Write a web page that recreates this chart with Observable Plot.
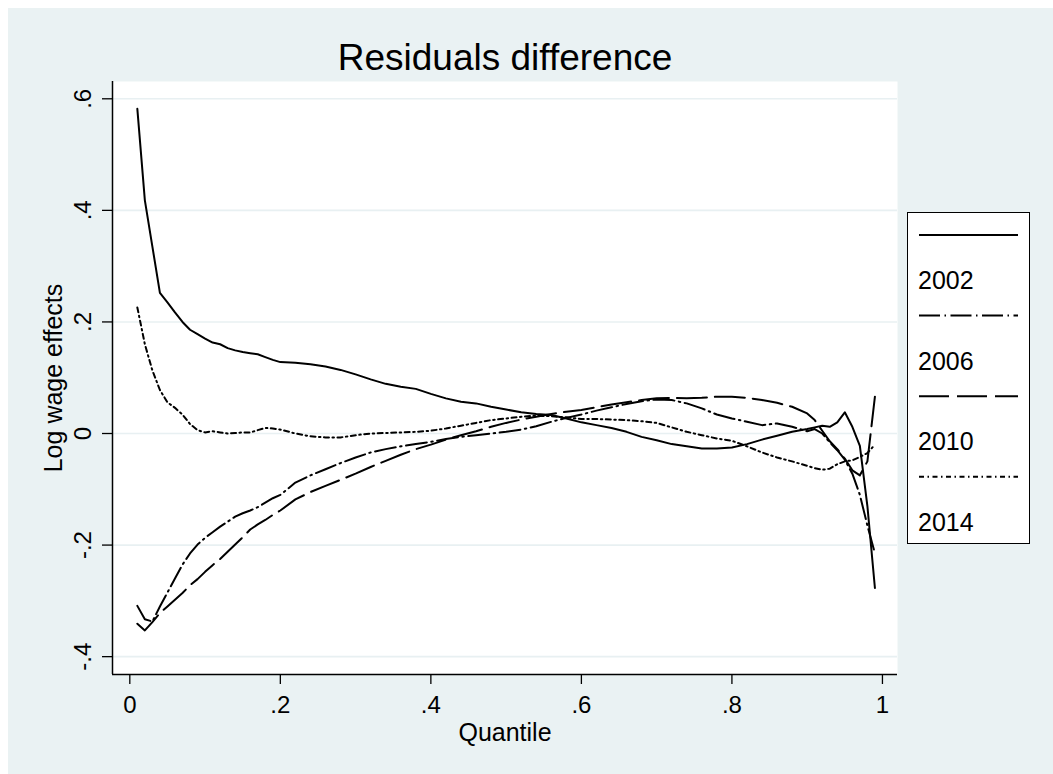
<!DOCTYPE html>
<html><head><meta charset="utf-8">
<script src="https://cdn.jsdelivr.net/npm/d3@7"></script>
<script src="https://cdn.jsdelivr.net/npm/@observablehq/plot@0.6"></script>
<style>
html,body{margin:0;padding:0;background:#fff;}
#wrap{position:relative;width:1053px;height:774px;overflow:hidden;background:#fff;}
#bg{position:absolute;left:8px;top:8px;right:0;bottom:0;background:#eaf2f3;}
#chart{position:absolute;left:0;top:0;}
#legend{position:absolute;left:0;top:0;}
</style></head><body>
<div id="wrap"><div id="bg"></div><div id="chart"></div><svg id="legend" width="1053" height="774"></svg></div>
<script>
const title = "Residuals difference";
const xTitle = "Quantile";
const yTitle = "Log wage effects";
const years = ["2002", "2006", "2010", "2014"];
const xTicks = [0, 0.2, 0.4, 0.6, 0.8, 1];
const xLabels = ["0", ".2", ".4", ".6", ".8", "1"];
const yTicks = [-0.4, -0.2, 0, 0.2, 0.4, 0.6];
const yLabels = ["-.4", "-.2", "0", ".2", ".4", ".6"];

const q = [.01,.02,.03,.04,.05,.06,.07,.08,.09,.10,.11,.12,.13,.14,.15,.16,.17,.18,.19,.20,
  .22,.24,.26,.28,.30,.32,.34,.36,.38,.40,.42,.44,.46,.48,.50,.52,.54,.56,.58,.60,
  .62,.64,.66,.68,.70,.72,.74,.76,.78,.80,.82,.84,.86,.88,.90,
  .91,.92,.93,.94,.95,.96,.97,.98,.99];

const s2002 = [.582,.418,.335,.252,.235,.217,.200,.186,.178,.170,.163,.160,.153,.149,.146,.144,.142,.137,.132,.128,
  .127,.124,.120,.114,.106,.097,.089,.084,.080,.071,.063,.057,.054,.048,.043,.038,.035,.033,.027,.020,
  .015,.010,.003,-.006,-.012,-.019,-.023,-.027,-.027,-.025,-.019,-.011,-.004,.003,.008,
  .011,.014,.012,.020,.038,.012,-.022,-.130,-.277];

const s2006 = [-.309,-.333,-.337,-.310,-.285,-.260,-.235,-.215,-.199,-.187,-.177,-.167,-.158,-.149,-.143,-.138,-.132,-.124,-.116,-.110,
  -.088,-.075,-.064,-.053,-.043,-.034,-.028,-.023,-.019,-.015,-.010,-.006,-.003,.000,.003,.007,.013,.021,.028,.034,
  .041,.047,.053,.058,.061,.060,.054,.045,.034,.027,.021,.015,.018,.012,.004,
  .008,.000,-.016,-.030,-.047,-.072,-.110,-.165,-.215];

const s2010 = [-.341,-.353,-.338,-.322,-.310,-.298,-.286,-.272,-.261,-.248,-.236,-.225,-.212,-.199,-.186,-.172,-.163,-.155,-.146,-.138,
  -.118,-.105,-.094,-.083,-.072,-.060,-.049,-.038,-.028,-.020,-.011,-.003,.004,.012,.019,.025,.030,.035,.039,.042,
  .047,.052,.056,.060,.063,.064,.063,.064,.066,.066,.064,.060,.055,.048,.036,
  .024,.005,-.014,-.028,-.045,-.066,-.075,-.050,.066];

const s2014 = [.226,.160,.113,.078,.056,.046,.034,.017,.006,.002,.004,.002,.000,.001,.002,.002,.006,.010,.009,.007,
  .000,-.005,-.007,-.007,-.003,.000,.001,.002,.003,.005,.009,.014,.019,.024,.027,.030,.032,.031,.029,.026,
  .026,.025,.024,.022,.019,.011,.003,-.003,-.009,-.013,-.023,-.034,-.043,-.050,-.058,
  -.062,-.065,-.063,-.055,-.050,-.048,-.042,-.035,-.020];

const seriesValues = [s2002, s2006, s2010, s2014];
const dashes = ["none", "21,4.5,1.5,4.5", "30,8", "5,3.5,1.5,3.5"];

const FONT = "'Liberation Sans', Arial, Helvetica, sans-serif";
const xDomain = [-0.023, 1.02];
const yDomain = [-0.432, 0.631];

const rows = years.map((yr, k) => q.map((x, i) => ({series: yr, q: x, v: seriesValues[k][i]})));

const chart = Plot.plot({
  width: 1053, height: 774,
  marginLeft: 112, marginRight: 156, marginTop: 81, marginBottom: 100,
  x: {domain: xDomain, axis: null},
  y: {domain: yDomain, axis: null},
  style: {fontFamily: FONT, background: "transparent", color: "#000", overflow: "visible"},
  marks: [
    Plot.frame({fill: "#fff", stroke: null}),
    Plot.gridY(yTicks, {stroke: "#e8f0f2", strokeOpacity: 1, strokeWidth: 1.6}),
    Plot.axisY(yTicks, {tickSize: 10, tickFormat: () => "", label: null, stroke: "#000", strokeWidth: 1.3}),
    Plot.axisX(xTicks, {tickSize: 10, tickFormat: () => "", label: null, stroke: "#000", strokeWidth: 1.3}),
    Plot.ruleX([xDomain[0]], {stroke: "#000", strokeWidth: 1.5}),
    Plot.ruleY([yDomain[0]], {stroke: "#000", strokeWidth: 1.5}),
    ...rows.map((r, k) => Plot.line(r, {x: "q", y: "v", stroke: "#000", strokeWidth: 2,
      strokeDasharray: dashes[k] === "none" ? null : dashes[k], strokeLinejoin: "round"})),
    Plot.text(yTicks, {y: d => d, text: (d, i) => yLabels[i], frameAnchor: "left", dx: -22,
      rotate: -90, textAnchor: "middle", lineAnchor: "bottom", fontSize: 24}),
    Plot.text(xTicks, {x: d => d, text: (d, i) => xLabels[i], frameAnchor: "bottom", dy: 38,
      lineAnchor: "bottom", fontSize: 24}),
    Plot.text([xTitle], {text: d => d, frameAnchor: "bottom", dy: 66, lineAnchor: "bottom", fontSize: 25}),
    Plot.text([yTitle], {text: d => d, frameAnchor: "left", dx: -51, rotate: -90, textAnchor: "middle",
      lineAnchor: "bottom", fontSize: 25}),
    Plot.text([title], {text: d => d, frameAnchor: "top", dy: -12, lineAnchor: "bottom", fontSize: 37})
  ]
});
document.getElementById("chart").appendChild(chart);

const lg = d3.select("#legend").style("font-family", FONT);
lg.append("rect").attr("x", 907.5).attr("y", 212.5).attr("width", 122).attr("height", 331)
  .attr("fill", "#fff").attr("stroke", "#000").attr("stroke-width", 1);
years.forEach((yr, i) => {
  const y0 = 235 + i * 80.6;
  lg.append("line").attr("x1", 919).attr("x2", 1018).attr("y1", y0).attr("y2", y0)
    .attr("stroke", "#000").attr("stroke-width", 2)
    .attr("stroke-dasharray", dashes[i]);
  lg.append("text").attr("x", 918).attr("y", y0 + 54).attr("font-size", 25).attr("fill", "#000").text(yr);
});
</script>
</body></html>
